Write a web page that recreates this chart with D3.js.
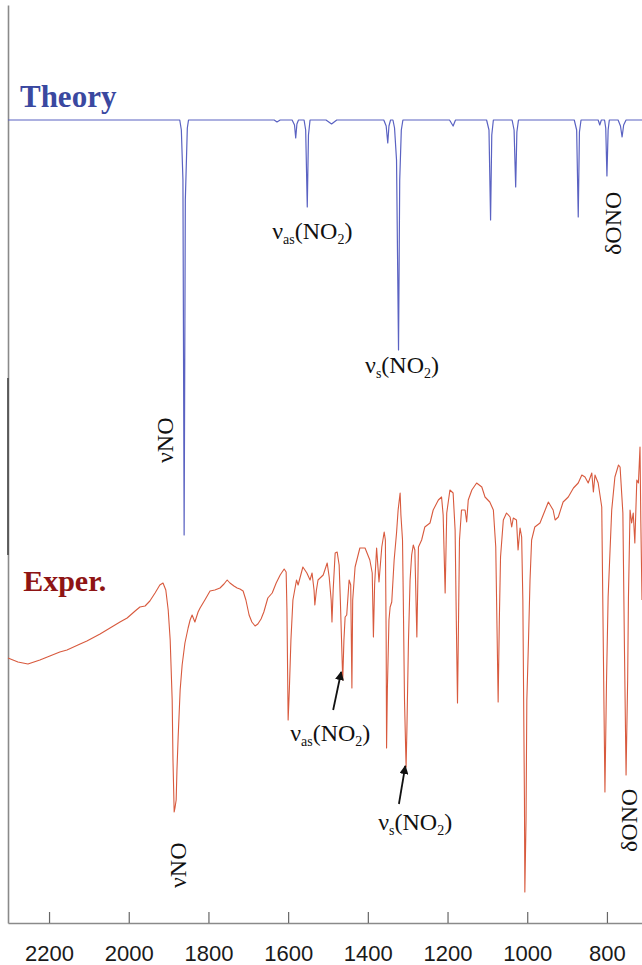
<!DOCTYPE html>
<html>
<head>
<meta charset="utf-8">
<script src="https://cdn.jsdelivr.net/npm/d3@7"></script>
<style>
  body { margin: 0; background: #fff; }
  svg { display: block; }
</style>
</head>
<body>
<svg id="chart"></svg>
<script>
// calculated spectrum (wavenumber, intensity a.u.)
var theoryWn = [2303, 1872, 1868, 1864, 1861, 1858, 1853, 1850,
  1635, 1628, 1620, 1590, 1584, 1581, 1578, 1574,
  1560, 1556, 1552, 1549, 1545, 1505, 1491, 1478,
  1360, 1354, 1350, 1347, 1343, 1337, 1333, 1328, 1323, 1320, 1316, 1312,
  1195, 1186, 1180, 1102, 1096, 1092, 1089, 1085,
  1038, 1033, 1029, 1026, 1022, 882, 876, 872, 869, 865,
  822, 818, 814, 806, 803, 800, 797, 794,
  772, 766, 762, 758, 752, 712];
var theoryVal = [80.3, 80.3, 79.3, 74.3, 38.8, 72.3, 79.5, 80.3,
  80.3, 80.1, 80.3, 80.3, 79.8, 78.5, 79.9, 80.3,
  80.3, 79.3, 71.6, 78.8, 80.3, 80.3, 79.9, 80.3,
  80.3, 79.7, 78.0, 79.7, 80.3, 80.3, 79.5, 76.3, 57.3, 74.3, 79.3, 80.3,
  80.3, 79.7, 80.3, 80.3, 79.3, 70.3, 78.8, 80.3,
  80.3, 79.3, 73.6, 79.1, 80.3, 80.3, 79.3, 70.6, 79.1, 80.3,
  80.3, 79.8, 80.3, 80.3, 79.5, 74.7, 79.3, 80.3,
  80.3, 79.7, 78.6, 79.8, 80.3, 80.3];

// measured spectrum (wavenumber, intensity a.u.)
var experWn = [2303, 2278, 2253, 2223, 2198, 2173, 2155, 2122, 2105, 2072, 2047, 2022, 2004, 1984, 1972, 1959, 1947, 1934, 1922, 1914,
  1907, 1901, 1896, 1891, 1889, 1886, 1884, 1881, 1879, 1876, 1871, 1866, 1859, 1851, 1846, 1841, 1834, 1826, 1821, 1809,
  1796, 1784, 1771, 1761, 1753, 1746, 1736, 1728, 1721, 1713, 1706, 1698, 1691, 1683, 1676, 1668, 1661, 1651, 1640, 1630,
  1620, 1610, 1605, 1603, 1600, 1597, 1593, 1588, 1579, 1575, 1563, 1553, 1545, 1540, 1535, 1533, 1529, 1525, 1512, 1502,
  1497, 1492, 1490, 1487, 1482, 1477, 1472, 1469, 1466, 1463, 1460, 1457, 1453, 1447, 1443, 1440, 1438, 1432, 1420, 1407,
  1395, 1389, 1386, 1383, 1378, 1372, 1365, 1359, 1356, 1354, 1353, 1351, 1347, 1344, 1340, 1334, 1328, 1324, 1319, 1317,
  1313, 1311, 1308, 1304, 1302, 1298, 1294, 1290, 1286, 1282, 1277, 1273, 1265, 1257, 1244, 1236, 1223, 1215, 1211, 1206,
  1202, 1194, 1186, 1181, 1178, 1175, 1173, 1170, 1165, 1156, 1152, 1148, 1139, 1127, 1114, 1106, 1094, 1085, 1079, 1075,
  1073, 1070, 1067, 1060, 1052, 1043, 1039, 1035, 1027, 1023, 1018, 1014, 1011, 1007, 1006, 1003, 1001, 997, 993, 989,
  981, 968, 955, 947, 935, 930, 922, 910, 897, 884, 872, 863, 855, 847, 838, 834, 830, 822, 813, 809,
  805, 801, 797, 788, 780, 771, 767, 760, 756, 752, 748, 746, 742, 738, 734, 730, 725, 721, 717, 715, 712];
var experVal = [26.5, 26.1, 25.9, 26.3, 26.7, 27.1, 27.3, 27.9, 28.2, 28.9, 29.5, 30.1, 30.5, 31.2, 31.6, 31.7, 32.2, 33.0, 33.8, 34.0,
  33.3, 31.3, 28.3, 22.3, 16.3, 11.1, 11.5, 12.3, 15.3, 18.6, 23.3, 25.8, 28.0, 29.5, 30.3, 30.8, 30.1, 31.1, 31.5, 32.3,
  33.2, 33.3, 33.5, 33.9, 34.3, 34.0, 33.7, 33.5, 33.4, 33.2, 32.3, 30.8, 30.1, 29.7, 29.9, 30.4, 31.1, 32.5, 33.0, 34.0,
  34.8, 35.4, 35.1, 31.3, 20.3, 23.3, 28.3, 32.3, 34.3, 33.8, 35.6, 35.0, 34.3, 35.0, 33.3, 31.8, 33.3, 34.3, 34.8, 36.0,
  34.6, 32.3, 30.1, 33.3, 37.0, 37.1, 35.8, 32.3, 28.3, 24.3, 28.3, 30.6, 30.8, 34.3, 33.8, 23.5, 32.3, 35.6, 37.5, 37.5,
  36.3, 35.0, 28.6, 33.8, 37.5, 34.1, 37.6, 39.1, 38.3, 28.3, 17.5, 23.3, 30.3, 31.6, 32.1, 36.3, 39.0, 41.3, 43.0, 40.8,
  38.3, 32.3, 22.3, 15.6, 19.3, 28.3, 34.3, 36.8, 37.8, 37.3, 28.6, 37.6, 38.3, 39.6, 40.0, 41.3, 42.3, 42.6, 40.8, 33.0,
  41.0, 43.3, 43.0, 39.3, 30.3, 22.0, 28.3, 38.3, 41.3, 41.3, 40.1, 42.3, 43.3, 44.0, 43.6, 42.6, 42.1, 41.3, 37.6, 27.3,
  22.1, 30.3, 36.6, 40.3, 41.0, 40.6, 39.6, 40.5, 40.3, 37.3, 39.5, 38.6, 32.3, 12.3, 3.1, 10.3, 22.3, 28.0, 34.3, 38.3,
  39.6, 40.0, 41.3, 42.1, 41.3, 40.3, 40.6, 42.1, 42.6, 43.5, 44.0, 44.8, 44.6, 44.0, 45.0, 43.1, 44.8, 44.0, 41.6, 27.3,
  13.1, 24.3, 32.6, 41.3, 44.6, 45.8, 45.6, 41.0, 27.3, 14.8, 24.3, 32.6, 41.3, 40.0, 41.0, 38.0, 44.3, 44.0, 47.6, 40.3, 32.3];

var tickValues = [2200, 2000, 1800, 1600, 1400, 1200, 1000, 800];

var width = 642
var height = 965
var svg = d3.select('#chart')
    .attr("width", width)
    .attr("height", height)
    .attr("viewBox", [0, 0, width, height]);

var x = d3.scaleLinear()
    .domain([2303, 712])
    .range([8, 642])
var y = d3.scaleLinear()
    .domain([0, 91.8])
    .range([923, 5])

var theory = theoryWn.map((d, i) => [d, theoryVal[i]])
var exper = experWn.map((d, i) => [d, experVal[i]])

var line = d3.line()
    .x(d => x(d[0]))
    .y(d => y(d[1]))

// axes
svg.append("g")
    .attr("transform", `translate(0,${y(0)})`)
    .call(d3.axisBottom(x).tickValues(tickValues).tickFormat(d3.format("d"))
        .tickSize(-11).tickSizeOuter(0).tickPadding(22))
    .call(g => g.select(".domain").attr("stroke", "#8a8a8a").attr("stroke-width", 1.6))
    .call(g => g.selectAll(".tick line").attr("stroke", "#666").attr("stroke-width", 1.2))
    .call(g => g.selectAll(".tick text")
        .attr("font-family", "Liberation Sans, Arial, sans-serif")
        .attr("font-size", 22)
        .attr("fill", "#1a1a1a"))
svg.append("g")
    .attr("transform", `translate(${x(2303)},0)`)
    .call(d3.axisLeft(y).tickValues([]).tickSizeOuter(0))
    .call(g => g.select(".domain").attr("stroke", "#8a8a8a").attr("stroke-width", 1.6))
// darker stretch of the left spine (scan artefact in the original)
svg.append("line")
    .attr("x1", x(2303)).attr("x2", x(2303))
    .attr("y1", y(54.5)).attr("y2", y(36.8))
    .attr("stroke", "#555").attr("stroke-width", 1.8)

// spectra
svg.append("path")
    .datum(theory)
    .attr("fill", "none")
    .attr("stroke", "#5a62c2")
    .attr("stroke-width", 1.2)
    .attr("stroke-linejoin", "round")
    .attr("d", line)
svg.append("path")
    .datum(exper)
    .attr("fill", "none")
    .attr("stroke", "#d85a3e")
    .attr("stroke-width", 1.1)
    .attr("stroke-linejoin", "round")
    .attr("d", line)

// titles
var serif = "Liberation Serif, Times New Roman, serif"
svg.append("text")
    .attr("x", x(2273)).attr("y", y(81.6))
    .attr("font-family", serif).attr("font-weight", "bold").attr("font-size", 31)
    .attr("fill", "#3a48a0")
    .text("Theory")
svg.append("text")
    .attr("x", x(2265)).attr("y", y(33.2))
    .attr("font-family", serif).attr("font-weight", "bold").attr("font-size", 30)
    .attr("fill", "#8e1414")
    .text("Exper.")

// band labels
function bandLabel(wn, val, sub) {
    var t = svg.append("text")
        .attr("x", x(wn)).attr("y", y(val))
        .attr("font-family", serif).attr("font-size", 24).attr("fill", "#111")
    t.append("tspan").text("\u03bd")
    t.append("tspan").attr("font-size", 14).attr("dy", 5).text(sub)
    t.append("tspan").attr("dy", -5).text("(NO")
    t.append("tspan").attr("font-size", 14).attr("dy", 5).text("2")
    t.append("tspan").attr("dy", -5).text(")")
}
function vertLabel(wn, val, txt) {
    svg.append("text")
        .attr("transform", `translate(${x(wn)},${y(val)}) rotate(-90)`)
        .attr("font-family", serif).attr("font-size", 24).attr("fill", "#111")
        .text(txt)
}
bandLabel(1640, 68.4, "as")
bandLabel(1407, 55.0, "s")
vertLabel(1890, 46.0, "\u03bdNO")
vertLabel(765, 66.8, "\u03b4ONO")

bandLabel(1595, 18.2, "as")
bandLabel(1374, 9.3, "s")
vertLabel(1857, 3.5, "\u03bdNO")
vertLabel(725, 7.1, "\u03b4ONO")

// arrows
svg.append("defs").append("marker")
    .attr("id", "head")
    .attr("viewBox", "0 0 10 10")
    .attr("refX", 9).attr("refY", 5)
    .attr("markerWidth", 5).attr("markerHeight", 5)
    .attr("orient", "auto")
    .append("path").attr("d", "M0,0L10,5L0,10z").attr("fill", "#111")
var arrows = [[1487, 21.3, 1467, 25.1], [1322, 11.9, 1306, 15.7]]
svg.append("g")
    .selectAll("line")
    .data(arrows)
    .join("line")
    .attr("x1", d => x(d[0])).attr("y1", d => y(d[1]))
    .attr("x2", d => x(d[2])).attr("y2", d => y(d[3]))
    .attr("stroke", "#111").attr("stroke-width", 1.8)
    .attr("marker-end", "url(#head)")
</script>
</body>
</html>
